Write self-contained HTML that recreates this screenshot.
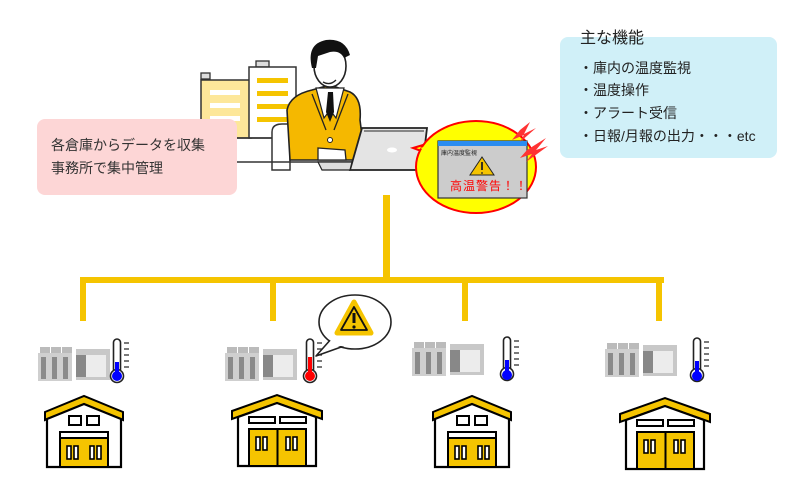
<!DOCTYPE html>
<html><head><meta charset="utf-8"><style>
html,body{margin:0;padding:0;background:#fff;width:800px;height:500px;overflow:hidden}
svg{display:block}
text{font-family:"Liberation Sans","Noto Sans CJK JP",sans-serif}
</style></head><body>
<svg width="800" height="500" viewBox="0 0 800 500" xmlns="http://www.w3.org/2000/svg">
<defs>
<g id="plc">
  <rect x="0" y="6" width="34" height="28" fill="#cfcfcf"/>
  <rect x="2" y="0" width="10" height="6" fill="#bbb"/><rect x="13" y="0" width="10" height="6" fill="#bbb"/><rect x="24" y="0" width="10" height="6" fill="#bbb"/>
  <rect x="3" y="10" width="5" height="22" fill="#8a8a8a"/><rect x="14" y="10" width="5" height="22" fill="#8a8a8a"/><rect x="25" y="10" width="5" height="22" fill="#8a8a8a"/>
  <rect x="38" y="2" width="34" height="31" fill="#c8c8c8"/>
  <rect x="38" y="8" width="10" height="22" fill="#888"/>
  <rect x="48" y="8" width="20" height="22" fill="#ececec"/>
</g>
<g id="thermo">
  <rect x="-3.5" y="0" width="7" height="34" rx="3.5" fill="#fff" stroke="#222" stroke-width="1.6"/>
  <circle cx="0" cy="37" r="6.5" fill="#fff" stroke="#222" stroke-width="1.6"/>
  <line x1="7" y1="4" x2="12" y2="4" stroke="#222" stroke-width="1.2"/>
  <line x1="7" y1="10" x2="12" y2="10" stroke="#222" stroke-width="1.2"/>
  <line x1="7" y1="16" x2="12" y2="16" stroke="#222" stroke-width="1.2"/>
  <line x1="7" y1="22" x2="12" y2="22" stroke="#222" stroke-width="1.2"/>
  <line x1="7" y1="28" x2="12" y2="28" stroke="#222" stroke-width="1.2"/>
</g>
<g id="whA">
  <polygon points="0,16 39,0 78,16 78,24 39,8 0,24" fill="#f5c400" stroke="#000" stroke-width="2"/>
  <polygon points="2,23 39,8 76,23 76,71 2,71" fill="#fff" stroke="#000" stroke-width="2.2"/>
  <rect x="24" y="20" width="12" height="9" fill="#fff" stroke="#000" stroke-width="2"/>
  <rect x="42" y="20" width="12" height="9" fill="#fff" stroke="#000" stroke-width="2"/>
  <rect x="15" y="36" width="48" height="35" fill="#f5c400" stroke="#000" stroke-width="2"/>
  <rect x="15" y="36" width="48" height="6" fill="#fff" stroke="#000" stroke-width="2"/>
  <rect x="22" y="50" width="4" height="13" fill="#fff" stroke="#000" stroke-width="1.6"/>
  <rect x="29" y="50" width="4" height="13" fill="#fff" stroke="#000" stroke-width="1.6"/>
  <rect x="45" y="50" width="4" height="13" fill="#fff" stroke="#000" stroke-width="1.6"/>
  <rect x="52" y="50" width="4" height="13" fill="#fff" stroke="#000" stroke-width="1.6"/>
</g>
<g id="whB">
  <polygon points="0,16 45,0 90,16 90,24 45,8 0,24" fill="#f5c400" stroke="#000" stroke-width="2"/>
  <polygon points="6,22 45,8 84,22 84,71 6,71" fill="#fff" stroke="#000" stroke-width="2.2"/>
  <rect x="17" y="22" width="26" height="6" fill="#fff" stroke="#000" stroke-width="2"/>
  <rect x="48" y="22" width="26" height="6" fill="#fff" stroke="#000" stroke-width="2"/>
  <rect x="17" y="34" width="57" height="37" fill="#f5c400" stroke="#000" stroke-width="2"/>
  <line x1="45.5" y1="34" x2="45.5" y2="71" stroke="#000" stroke-width="2"/>
  <rect x="24" y="42" width="4" height="13" fill="#fff" stroke="#000" stroke-width="1.6"/>
  <rect x="31" y="42" width="4" height="13" fill="#fff" stroke="#000" stroke-width="1.6"/>
  <rect x="54" y="42" width="4" height="13" fill="#fff" stroke="#000" stroke-width="1.6"/>
  <rect x="61" y="42" width="4" height="13" fill="#fff" stroke="#000" stroke-width="1.6"/>
</g>
</defs>

<!-- tree connectors -->
<g fill="#f5c400">
  <rect x="383" y="195" width="7" height="88"/>
  <rect x="80" y="277" width="584" height="6"/>
  <rect x="80" y="277" width="6" height="44"/>
  <rect x="270" y="277" width="6" height="44"/>
  <rect x="462" y="277" width="6" height="44"/>
  <rect x="656" y="277" width="6" height="44"/>
</g>

<!-- buildings background -->
<rect x="201" y="73" width="9" height="6" fill="#ddd" stroke="#333" stroke-width="1.3"/>
<rect x="201" y="80" width="50" height="58" fill="#fde79a" stroke="#333" stroke-width="1.5"/>
<rect x="210" y="90" width="30" height="5" fill="#fff"/><rect x="210" y="103" width="30" height="5" fill="#fff"/><rect x="210" y="116" width="30" height="5" fill="#fff"/>
<rect x="256" y="61" width="13" height="6" fill="#ddd" stroke="#333" stroke-width="1.3"/>
<rect x="249" y="67" width="47" height="71" fill="#fff" stroke="#333" stroke-width="1.5"/>
<rect x="257" y="78" width="31" height="5" fill="#f5c400"/><rect x="257" y="91" width="31" height="5" fill="#f5c400"/><rect x="257" y="104" width="31" height="5" fill="#f5c400"/><rect x="257" y="117" width="31" height="5" fill="#f5c400"/>
<line x1="160" y1="138" x2="296" y2="138" stroke="#333" stroke-width="1.5"/>
<!-- chair -->
<path d="M272,170 L272,132 Q272,124 282,124 L290,124 L290,170 Z" fill="#fff" stroke="#333" stroke-width="1.5"/>
<line x1="160" y1="162" x2="430" y2="162" stroke="#333" stroke-width="1.5"/>

<!-- man -->
<path d="M290,160 L287,110 Q290,95 312,90 L330,85 L350,92 Q362,98 360,120 L365,160 Z" fill="#f5b800" stroke="#222" stroke-width="1.6"/>
<polygon points="316,88 344,88 336,118 330,110 324,118" fill="#fff" stroke="#222" stroke-width="1.2"/>
<polygon points="328,92 333,92 334,112 330,122 326,112" fill="#111"/>
<line x1="312" y1="94" x2="326" y2="130" stroke="#222" stroke-width="1.3"/>
<line x1="348" y1="94" x2="334" y2="130" stroke="#222" stroke-width="1.3"/>
<circle cx="330" cy="140" r="2.5" fill="#fff" stroke="#222"/>
<ellipse cx="330" cy="66" rx="16" ry="21" fill="#fff" stroke="#222" stroke-width="1.6"/>
<path d="M312,68 Q306,44 326,40 Q345,38 350,55 L344,58 Q340,50 330,52 L318,56 L316,68 Z" fill="#111"/>
<path d="M323,82 Q330,86 336,80" fill="none" stroke="#222" stroke-width="1.3"/>
<path d="M318,148 L345,150 L346,160 L318,160 Z" fill="#fff" stroke="#222" stroke-width="1.3"/>

<!-- laptop -->
<polygon points="362,128 427,128 422,170 350,170" fill="#e4e4e4" stroke="#222" stroke-width="1.8"/>
<line x1="364" y1="131" x2="424" y2="131" stroke="#666" stroke-width="1.5"/>
<ellipse cx="392" cy="150" rx="5" ry="2.5" fill="#fff"/>
<polygon points="318,162 352,162 350,170 322,170" fill="#ddd" stroke="#222" stroke-width="1.2"/>

<!-- alert bubble -->
<polygon points="413,148 440,140 440,158" fill="#ffff00" stroke="#f00" stroke-width="2"/>
<ellipse cx="476" cy="167" rx="60" ry="46" fill="#ffff00" stroke="#f00" stroke-width="2"/>
<polygon points="420,148 440,143 440,156" fill="#ffff00"/>
<rect x="438" y="141" width="89" height="57" fill="#ccc" stroke="#333" stroke-width="1.2"/>
<rect x="438" y="141" width="89" height="5" fill="#2a8cf0"/>
<text x="441" y="155" font-size="6" fill="#222">庫内温度監視</text>
<polygon points="482,157 494,175 470,175" fill="#f5c400" stroke="#222" stroke-width="1"/>
<line x1="482" y1="162" x2="482" y2="170" stroke="#222" stroke-width="1.8"/>
<circle cx="482" cy="173" r="0.9" fill="#222"/>
<text x="450" y="190" font-size="12" fill="#f00" letter-spacing="1">高温警告！！</text>
<polygon points="520,130 530,122 524,134 536,128 520,142 524,135 512,140" fill="#f33"/>
<polygon points="527,150 546,138 536,150 548,146 526,162 532,154 520,158" fill="#f33"/>

<!-- pink box -->
<rect x="37" y="119" width="200" height="76" rx="8" fill="#fdd6d6"/>
<text x="51" y="150" font-size="14" fill="#333">各倉庫からデータを収集</text>
<text x="51" y="173" font-size="14" fill="#333">事務所で集中管理</text>

<!-- blue box -->
<rect x="560" y="37" width="217" height="121" rx="8" fill="#d0f0f8"/>
<text x="580" y="43" font-size="16" fill="#222">主な機能</text>
<text x="579" y="73" font-size="14" fill="#222">・庫内の温度監視</text>
<text x="579" y="95" font-size="14" fill="#222">・温度操作</text>
<text x="579" y="118" font-size="14" fill="#222">・アラート受信</text>
<text x="579" y="141" font-size="14" fill="#222">・日報/月報の出力・・・etc</text>

<!-- site 1 -->
<use href="#plc" x="38" y="347"/>
<use href="#thermo" x="117" y="339"/>
<rect x="115" y="362" width="4" height="14" fill="#00f"/><circle cx="117" cy="376" r="5" fill="#00f"/>
<use href="#whA" x="45" y="396"/>
<!-- site 2 -->
<use href="#plc" x="225" y="347"/>
<ellipse cx="355" cy="322" rx="36" ry="27" fill="#fff" stroke="#222" stroke-width="1.6"/>
<polygon points="333,336 316,356 345,344" fill="#fff"/>
<polyline points="332,338 316,356 344,346" fill="none" stroke="#222" stroke-width="1.6" stroke-linejoin="round"/>
<ellipse cx="355" cy="322" rx="35" ry="26" fill="#fff"/>
<path d="M354,302 L371,333 L337,333 Z" fill="#f5c400" stroke="#f5c400" stroke-width="5" stroke-linejoin="round"/>
<path d="M354,307 L367,330 L341,330 Z" fill="#f5c400" stroke="#111" stroke-width="1.8" stroke-linejoin="round"/>
<line x1="354" y1="313" x2="354" y2="323" stroke="#111" stroke-width="3"/>
<circle cx="354" cy="327" r="1.6" fill="#111"/>
<use href="#thermo" x="310" y="339"/>
<rect x="308" y="357" width="4" height="19" fill="#f00"/><circle cx="310" cy="376" r="5" fill="#f00"/>
<use href="#whB" x="232" y="395"/>
<!-- site 3 -->
<use href="#plc" x="412" y="342"/>
<use href="#thermo" x="507" y="337"/>
<rect x="505" y="360" width="4" height="16" fill="#00f"/><circle cx="507" cy="375" r="5" fill="#00f"/>
<use href="#whA" x="433" y="396"/>
<!-- site 4 -->
<use href="#plc" x="605" y="343"/>
<use href="#thermo" x="697" y="338"/>
<rect x="695" y="361" width="4" height="15" fill="#00f"/><circle cx="697" cy="376" r="5" fill="#00f"/>
<use href="#whB" x="620" y="398"/>
</svg>
</body></html>
